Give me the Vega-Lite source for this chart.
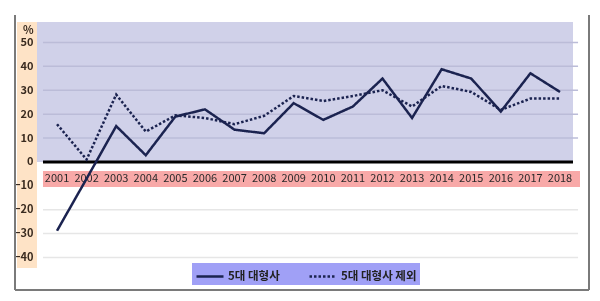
{
  "$schema": "https://vega.github.io/schema/vega-lite/v6.json",
  "width": 574,
  "height": 275,
  "autosize": {"type": "none"},
  "padding": {"left": 15, "top": 15, "right": 11, "bottom": 11},
  "background": "white",
  "config": {
    "view": {"stroke": null},
    "axisY": {
      "orient": "left", "offset": -20, "zindex": 2,
      "domain": false, "ticks": false, "grid": false, "title": null,
      "labelFont": "Noto Sans CJK KR", "labelFontSize": 11, "labelFontWeight": "bold",
      "labelColor": "#3a3028", "labelPadding": 2, "labelOverlap": false, "labelBound": false
    }
  },
  "data": {"values": [
    {"Year": 2001, "5대 대형사": -28.8, "5대 대형사 제외": 15.8},
    {"Year": 2002, "5대 대형사": -7.0, "5대 대형사 제외": 1.0},
    {"Year": 2003, "5대 대형사": 15.0, "5대 대형사 제외": 28.2},
    {"Year": 2004, "5대 대형사": 2.8, "5대 대형사 제외": 12.7},
    {"Year": 2005, "5대 대형사": 19.0, "5대 대형사 제외": 19.5},
    {"Year": 2006, "5대 대형사": 22.0, "5대 대형사 제외": 18.4},
    {"Year": 2007, "5대 대형사": 13.5, "5대 대형사 제외": 15.8},
    {"Year": 2008, "5대 대형사": 12.0, "5대 대형사 제외": 19.3},
    {"Year": 2009, "5대 대형사": 24.6, "5대 대형사 제외": 27.6},
    {"Year": 2010, "5대 대형사": 17.6, "5대 대형사 제외": 25.5},
    {"Year": 2011, "5대 대형사": 23.2, "5대 대형사 제외": 27.6},
    {"Year": 2012, "5대 대형사": 34.9, "5대 대형사 제외": 30.0},
    {"Year": 2013, "5대 대형사": 18.4, "5대 대형사 제외": 23.2},
    {"Year": 2014, "5대 대형사": 38.8, "5대 대형사 제외": 31.8},
    {"Year": 2015, "5대 대형사": 34.9, "5대 대형사 제외": 29.3},
    {"Year": 2016, "5대 대형사": 21.1, "5대 대형사 제외": 21.8},
    {"Year": 2017, "5대 대형사": 37.1, "5대 대형사 제외": 26.5},
    {"Year": 2018, "5대 대형사": 29.3, "5대 대형사 제외": 26.5}
  ]},
  "layer": [
    {
      "data": {"values": [{}]},
      "mark": {"type": "rect", "color": "#d0d1e9"},
      "encoding": {
        "x": {"datum": 2000.324, "type": "quantitative", "scale": {"domain": [1999.58, 2018.98], "nice": false, "zero": false}, "axis": null},
        "x2": {"datum": 2018.439},
        "y": {"datum": 58.6, "type": "quantitative", "scale": {"domain": [-53.6, 61.5], "nice": false, "zero": false},
          "axis": {"values": [-40, -30, -20, -10, 0, 10, 20, 30, 40, 50, 55], "labelExpr": "datum.value == 55 ? '%' : datum.label", "title": null}},
        "y2": {"datum": 0}
      }
    },
    {
      "data": {"values": [{}]},
      "mark": {"type": "rect", "color": "#fee3c6", "blend": "multiply"},
      "encoding": {
        "x": {"datum": 1999.648, "type": "quantitative", "scale": {"domain": [1999.58, 2018.98], "nice": false, "zero": false}, "axis": null},
        "x2": {"datum": 2000.324},
        "y": {"datum": 58.6, "type": "quantitative", "scale": {"domain": [-53.6, 61.5], "nice": false, "zero": false},
          "axis": {"values": [-40, -30, -20, -10, 0, 10, 20, 30, 40, 50, 55], "labelExpr": "datum.value == 55 ? '%' : datum.label", "title": null}},
        "y2": {"datum": -44.4}
      }
    },
    {
      "data": {"values": [{"g": -40}, {"g": -30}, {"g": -20}, {"g": -10}, {"g": 10}, {"g": 20}, {"g": 30}, {"g": 40}, {"g": 50}]},
      "mark": {"type": "rule", "strokeWidth": 1.5},
      "encoding": {
        "x": {"datum": 2000.526, "type": "quantitative", "scale": {"domain": [1999.58, 2018.98], "nice": false, "zero": false}, "axis": null},
        "x2": {"datum": 2018.61},
        "y": {"field": "g", "type": "quantitative", "scale": {"domain": [-53.6, 61.5], "nice": false, "zero": false},
          "axis": {"values": [-40, -30, -20, -10, 0, 10, 20, 30, 40, 50, 55], "labelExpr": "datum.value == 55 ? '%' : datum.label", "title": null}},
        "color": {"condition": {"test": "datum.g > 0", "value": "#bbbcd8"}, "value": "#e6e6e6"}
      }
    },
    {
      "data": {"values": [{}]},
      "mark": {"type": "rect", "color": "#f8a9a8"},
      "encoding": {
        "x": {"datum": 2000.526, "type": "quantitative", "scale": {"domain": [1999.58, 2018.98], "nice": false, "zero": false}, "axis": null},
        "x2": {"datum": 2018.676},
        "y": {"datum": -3.77, "type": "quantitative", "scale": {"domain": [-53.6, 61.5], "nice": false, "zero": false},
          "axis": {"values": [-40, -30, -20, -10, 0, 10, 20, 30, 40, 50, 55], "labelExpr": "datum.value == 55 ? '%' : datum.label", "title": null}},
        "y2": {"datum": -10.46}
      }
    },
    {
      "mark": {"type": "text", "font": "Noto Sans CJK KR", "fontSize": 11, "color": "#2a2a2a", "baseline": "middle", "align": "center"},
      "encoding": {
        "x": {"field": "Year", "type": "quantitative", "scale": {"domain": [1999.58, 2018.98], "nice": false, "zero": false}, "axis": null},
        "y": {"datum": -7.2, "type": "quantitative", "scale": {"domain": [-53.6, 61.5], "nice": false, "zero": false},
          "axis": {"values": [-40, -30, -20, -10, 0, 10, 20, 30, 40, 50, 55], "labelExpr": "datum.value == 55 ? '%' : datum.label", "title": null}},
        "text": {"field": "Year", "type": "quantitative", "format": "d"}
      }
    },
    {
      "data": {"values": [{}]},
      "mark": {"type": "rule", "color": "#000000", "strokeWidth": 3},
      "encoding": {
        "x": {"datum": 2000.526, "type": "quantitative", "scale": {"domain": [1999.58, 2018.98], "nice": false, "zero": false}, "axis": null},
        "x2": {"datum": 2018.439},
        "y": {"datum": 0, "type": "quantitative", "scale": {"domain": [-53.6, 61.5], "nice": false, "zero": false},
          "axis": {"values": [-40, -30, -20, -10, 0, 10, 20, 30, 40, 50, 55], "labelExpr": "datum.value == 55 ? '%' : datum.label", "title": null}}
      }
    },
    {
      "transform": [{"fold": ["5대 대형사", "5대 대형사 제외"], "as": ["series", "value"]}],
      "mark": {"type": "line", "color": "#1b2350", "strokeWidth": 2.5},
      "encoding": {
        "x": {"field": "Year", "type": "quantitative", "scale": {"domain": [1999.58, 2018.98], "nice": false, "zero": false}, "axis": null},
        "y": {"field": "value", "type": "quantitative", "scale": {"domain": [-53.6, 61.5], "nice": false, "zero": false},
          "axis": {"values": [-40, -30, -20, -10, 0, 10, 20, 30, 40, 50, 55], "labelExpr": "datum.value == 55 ? '%' : datum.label", "title": null}},
        "strokeDash": {
          "field": "series", "type": "nominal",
          "scale": {"domain": ["5대 대형사", "5대 대형사 제외"], "range": [[1, 0], [2.5, 2]]},
          "legend": {
            "orient": "none", "legendX": 177, "legendY": 248,
            "direction": "horizontal", "title": null,
            "fillColor": "#a0a0f6", "padding": 3,
            "symbolType": "M-1,0H2", "symbolSize": 324,
            "symbolStrokeWidth": 2.5, "symbolStrokeColor": "#1b2350", "symbolFillColor": "transparent",
            "labelOffset": 12, "columnPadding": 24,
            "labelFont": "Noto Sans CJK KR", "labelFontSize": 11.5, "labelFontWeight": "bold", "labelColor": "#222222"
          }
        }
      }
    },
    {
      "data": {"values": [{}]},
      "mark": {"type": "rule", "color": "#7a7a7a", "strokeWidth": 2},
      "encoding": {
        "x": {"datum": 1999.58, "type": "quantitative", "scale": {"domain": [1999.58, 2018.98], "nice": false, "zero": false}, "axis": null}
      }
    },
    {
      "data": {"values": [{}]},
      "mark": {"type": "rule", "color": "#7a7a7a", "strokeWidth": 2},
      "encoding": {
        "x": {"datum": 2018.98, "type": "quantitative", "scale": {"domain": [1999.58, 2018.98], "nice": false, "zero": false}, "axis": null}
      }
    },
    {
      "data": {"values": [{}]},
      "mark": {"type": "rule", "color": "#7a7a7a", "strokeWidth": 2},
      "encoding": {
        "y": {"datum": -53.6, "type": "quantitative", "scale": {"domain": [-53.6, 61.5], "nice": false, "zero": false},
          "axis": {"values": [-40, -30, -20, -10, 0, 10, 20, 30, 40, 50, 55], "labelExpr": "datum.value == 55 ? '%' : datum.label", "title": null}}
      }
    }
  ]
}
